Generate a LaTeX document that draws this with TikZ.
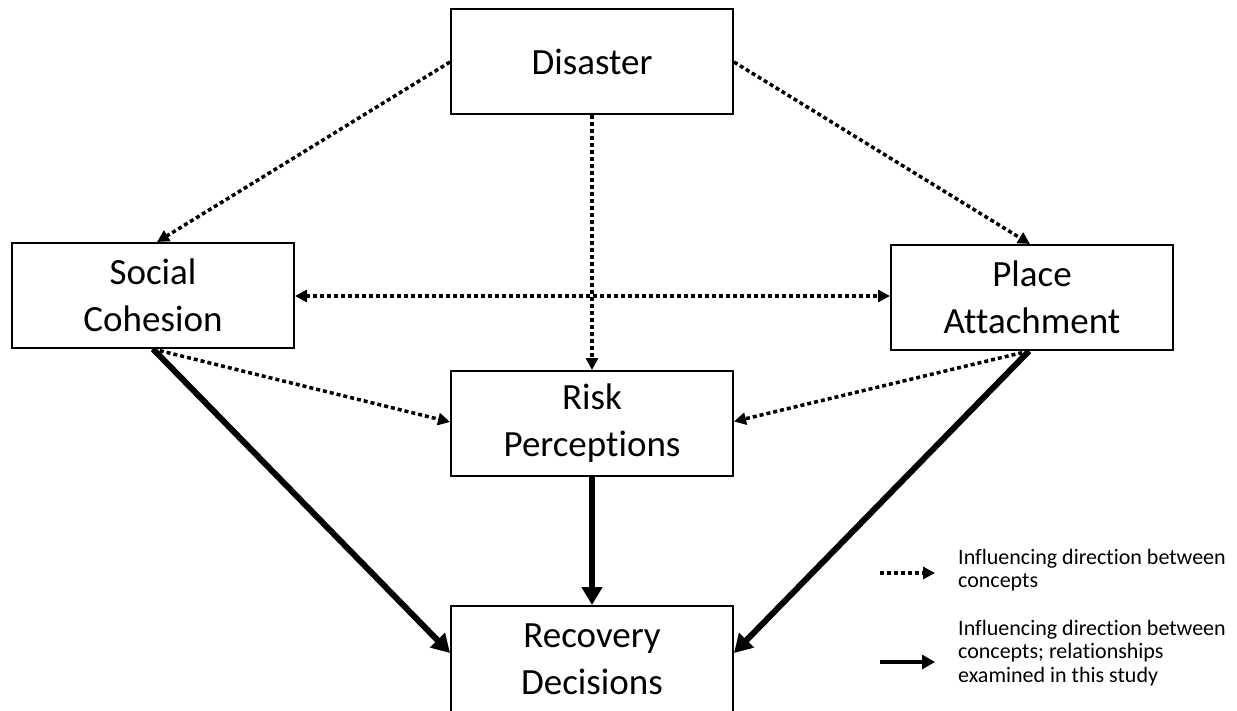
\documentclass[tikz,border=0pt]{standalone}
\usepackage{fontspec}
\setmainfont{Carlito}[Ligatures={NoCommon}]
\usetikzlibrary{arrows.meta}
\begin{document}
\begin{tikzpicture}[x=1pt,y=-1pt,
  concept/.style={draw,line width=2pt,rectangle,minimum width=282pt,minimum height=105pt,
    inner sep=0pt,align=center,font=\fontsize{37}{47}\selectfont},
  influence/.style={line width=3.5pt,dash pattern=on 4pt off 3pt,
    -{Triangle[length=12pt,width=12pt]}},
  examined/.style={line width=6pt,-{Triangle[length=18pt,width=20pt]}},
  legendtext/.style={anchor=north west,inner sep=0pt,align=left,
    font=\fontsize{22}{23.5}\selectfont}]
\useasboundingbox (0,0) rectangle (1237,711);

% concepts
\node[concept] (dis) at (592,62) {Disaster};
\node[concept] (soc) at (153,295.5) {Social\\Cohesion};
\node[concept] (pla) at (1032,297.5) {Place\\Attachment};
\node[concept] (risk) at (592,423.5) {Risk\\Perceptions};
\node[concept,minimum height=106pt] (rec) at (592,659) {Recovery\\Decisions};

% influences between concepts
\draw[influence] (dis.west) -- ([xshift=4pt]soc.north);
\draw[influence] (dis.east) -- ([xshift=-2pt]pla.north);
\draw[influence] (dis.south) -- (risk.north);
\draw[influence,{Triangle[length=12pt,width=12pt]}-{Triangle[length=12pt,width=12pt]}]
  ([yshift=-0.5pt]soc.east) -- ([yshift=1.5pt]pla.west);
\draw[influence] (soc.south) -- ([yshift=1.5pt]risk.west);
\draw[influence] ([xshift=-3pt]pla.south) -- ([yshift=2pt]risk.east);

% relationships examined
\draw[examined] (soc.south) -- ([yshift=6pt]rec.west);
\draw[examined] ([xshift=-3pt]pla.south) -- ([yshift=6pt]rec.east);
\draw[examined] (risk.south) -- (rec.north);

% legend
\coordinate (l1a) at (880,573);
\coordinate (l1b) at (935,573);
\coordinate (l2a) at (880,662);
\coordinate (l2b) at (935,662);
\draw[influence,line width=3.5pt] (l1a) -- (l1b);
\draw[line width=4.5pt,-{Triangle[length=13pt,width=14pt]}] (l2a) -- (l2b);
\node[legendtext] (t1) at (958,549) {Influencing direction between\\concepts};
\node[legendtext] (t2) at (958,620) {Influencing direction between\\concepts; relationships\\examined in this study};
\end{tikzpicture}
\end{document}
